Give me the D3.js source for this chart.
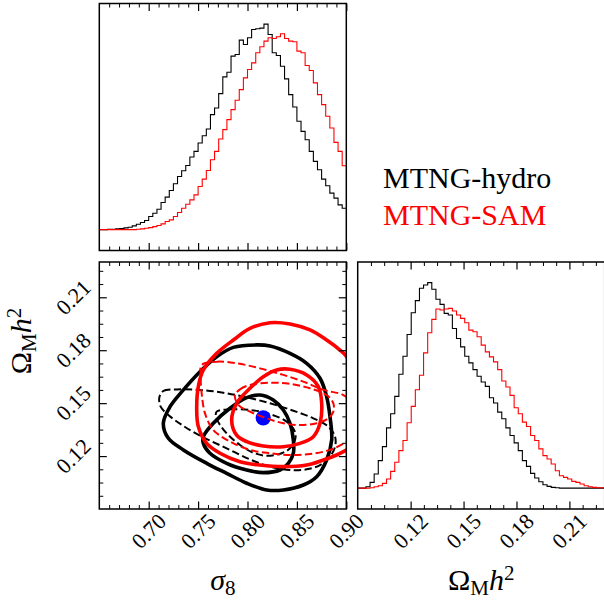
<!DOCTYPE html>
<html>
<head>
<meta charset="utf-8">
<script src="https://d3js.org/d3.v7.min.js"></script>
<style>
body { margin: 0; background: #fff; }
text { font-family: "Liberation Serif", "Times New Roman", serif; fill: #000; }
</style>
</head>
<body>
<svg id="plot" width="604" height="606"></svg>
<script>
/* global d3 */
// parameter ranges and bins
var sigma8Range = [0.65, 0.90];
var omegaRange = [0.09, 0.23];
var nBins = 60;

var sigma8Major = [0.70, 0.75, 0.80, 0.85, 0.90];
var omegaMajor = [0.12, 0.15, 0.18, 0.21];

var seriesNames = ["MTNG-hydro", "MTNG-SAM"];
var seriesColors = ["#000000", "#ff0000"];

// marginal histograms (arbitrary units)
var sigma8Hydro = [1, 1, 2, 2, 3, 4, 6, 8, 12, 17, 22, 28, 40, 50, 62, 82, 98, 118, 138, 160,
	177, 193, 218, 235, 260, 282, 302, 345, 365, 408, 458, 472, 520, 525, 568, 555, 575, 600, 602, 604,
	616, 585, 530, 522, 490, 452, 405, 368, 325, 295, 270, 235, 205, 180, 152, 132, 110, 95, 75, 65];
var sigma8Sam = [1, 1, 1, 1, 1, 1, 1, 1, 1, 2, 3, 5, 7, 10, 13, 18, 25, 30, 40, 52,
	65, 77, 90, 105, 130, 152, 178, 210, 235, 272, 300, 330, 360, 388, 420, 455, 480, 500, 530, 548,
	565, 575, 573, 578, 587, 573, 565, 563, 535, 530, 492, 477, 440, 405, 375, 340, 305, 262, 235, 192];
var omegaHydro = [1, 1, 5, 18, 43, 83, 125, 181, 223, 275, 341, 395, 460, 525, 561, 598, 608, 615, 595, 565,
	550, 523, 518, 478, 448, 423, 395, 375, 355, 335, 318, 305, 271, 255, 228, 208, 181, 158, 136, 113,
	83, 66, 45, 31, 20, 11, 6, 3, 2, 1, 1, 1, 1, 1, 1, 1, 1, 1, 1, 1];
var omegaSam = [1, 1, 1, 2, 5, 8, 15, 28, 51, 78, 113, 143, 196, 245, 295, 338, 405, 465, 505, 536,
	533, 536, 538, 530, 518, 508, 495, 473, 468, 453, 428, 408, 393, 378, 355, 321, 303, 278, 241, 223,
	198, 185, 158, 143, 118, 98, 88, 73, 53, 38, 33, 28, 21, 18, 13, 8, 5, 3, 2, 2];

// 2D contours [sigma8, Omega_M h^2]
var hydroSolidOuter = [[0.7148, 0.1386], [0.7216, 0.1480], [0.7351, 0.1575], [0.7519, 0.1678], [0.7688, 0.1763],
	[0.7857, 0.1816], [0.8093, 0.1830], [0.8228, 0.1824], [0.8430, 0.1782], [0.8599, 0.1726], [0.8734, 0.1641],
	[0.8801, 0.1537], [0.8835, 0.1423], [0.8852, 0.1291], [0.8801, 0.1178], [0.8700, 0.1083], [0.8565, 0.1036],
	[0.8363, 0.1008], [0.8194, 0.1008], [0.7992, 0.1046], [0.7789, 0.1102], [0.7587, 0.1159], [0.7351, 0.1235],
	[0.7199, 0.1301]];
var hydroSolidInner = [[0.7553, 0.1310], [0.7654, 0.1386], [0.7823, 0.1471], [0.7992, 0.1531], [0.8127, 0.1546],
	[0.8261, 0.1518], [0.8363, 0.1461], [0.8430, 0.1386], [0.8464, 0.1291], [0.8464, 0.1216], [0.8413, 0.1159],
	[0.8329, 0.1121], [0.8160, 0.1106], [0.7992, 0.1121], [0.7789, 0.1159], [0.7620, 0.1216], [0.7553, 0.1272]];
var hydroDashOuter = [[0.7108, 0.1533], [0.7148, 0.1569], [0.7283, 0.1578], [0.7519, 0.1575], [0.7755, 0.1559],
	[0.7992, 0.1533], [0.8228, 0.1499], [0.8464, 0.1457], [0.8666, 0.1414], [0.8818, 0.1367], [0.8886, 0.1310],
	[0.8886, 0.1253], [0.8835, 0.1197], [0.8734, 0.1149], [0.8599, 0.1125], [0.8430, 0.1121], [0.8228, 0.1140],
	[0.8025, 0.1181], [0.7789, 0.1244], [0.7553, 0.1306], [0.7351, 0.1371], [0.7199, 0.1433], [0.7121, 0.1480]];
var hydroDashInner = [[0.7688, 0.1452], [0.7823, 0.1465], [0.8025, 0.1461], [0.8228, 0.1438], [0.8396, 0.1395],
	[0.8481, 0.1338], [0.8481, 0.1291], [0.8430, 0.1244], [0.8346, 0.1216], [0.8194, 0.1202], [0.8059, 0.1219],
	[0.7924, 0.1263], [0.7806, 0.1319], [0.7722, 0.1376], [0.7681, 0.1423]];
var samSolidOuter = [[0.7486, 0.1461], [0.7502, 0.1594], [0.7553, 0.1688], [0.7688, 0.1782], [0.7857, 0.1858],
	[0.8025, 0.1924], [0.8228, 0.1956], [0.8430, 0.1949], [0.8633, 0.1915], [0.8801, 0.1858], [0.8936, 0.1801],
	[0.9004, 0.1763], [0.9105, 0.1650], [0.9139, 0.1461], [0.9105, 0.1272], [0.9004, 0.1235], [0.8902, 0.1206],
	[0.8768, 0.1178], [0.8599, 0.1149], [0.8363, 0.1140], [0.8127, 0.1149], [0.7924, 0.1168], [0.7722, 0.1216],
	[0.7587, 0.1272], [0.7502, 0.1367]];
var samSolidInner = [[0.7840, 0.1405], [0.7890, 0.1499], [0.8025, 0.1584], [0.8160, 0.1650], [0.8295, 0.1688],
	[0.8430, 0.1692], [0.8599, 0.1660], [0.8717, 0.1594], [0.8751, 0.1499], [0.8734, 0.1386], [0.8666, 0.1310],
	[0.8531, 0.1272], [0.8363, 0.1253], [0.8160, 0.1257], [0.7992, 0.1282], [0.7890, 0.1319]];
var samDashOuter = [[0.7536, 0.1716], [0.7688, 0.1735], [0.7890, 0.1726], [0.8127, 0.1697], [0.8363, 0.1660],
	[0.8565, 0.1622], [0.8768, 0.1575], [0.8970, 0.1546], [0.9105, 0.1480], [0.9105, 0.1329], [0.9004, 0.1282],
	[0.8835, 0.1235], [0.8633, 0.1212], [0.8430, 0.1206], [0.8228, 0.1216], [0.8025, 0.1235], [0.7823, 0.1282],
	[0.7654, 0.1348], [0.7570, 0.1442], [0.7536, 0.1556], [0.7526, 0.1650]];
var samDashInner = [[0.7873, 0.1546], [0.7924, 0.1578], [0.8025, 0.1603], [0.8228, 0.1616], [0.8430, 0.1609],
	[0.8633, 0.1584], [0.8801, 0.1546], [0.8869, 0.1499], [0.8869, 0.1452], [0.8818, 0.1414], [0.8700, 0.1386],
	[0.8531, 0.1376], [0.8363, 0.1386], [0.8194, 0.1414], [0.8025, 0.1452], [0.7907, 0.1490]];

var fiducial = [0.8159, 0.1417];

// layout
var size = 247;
var leftX = 99.3, rightX = 357.7, topY = 3.5, lowY = 262;

var svg = d3.select("#plot");
var fmt = d3.format(".2f");

function minorValues(lo, hi, step, major) {
	var out = [];
	for (var i = 1; lo + i * step < hi - 1e-9; i++) {
		var v = lo + i * step;
		var isMajor = major.some(function(m) { return Math.abs(m - v) < 1e-6; });
		if (!isMajor) out.push(v);
	}
	return out;
}

function addTicks(g, scale, side, values, len, w) {
	var ax, tr = "translate(0,0)";
	if (side === "bottom") { ax = d3.axisBottom(scale); tr = "translate(0," + size + ")"; }
	else if (side === "top") ax = d3.axisTop(scale);
	else if (side === "left") ax = d3.axisLeft(scale);
	else { ax = d3.axisRight(scale); tr = "translate(" + size + ",0)"; }
	ax.tickValues(values).tickSize(-len).tickFormat("");
	var a = g.append("g").attr("transform", tr).call(ax);
	a.select(".domain").remove();
	a.selectAll("line").attr("stroke", "#000").attr("stroke-width", w);
}

function makePanel(px, py, id) {
	var g = svg.append("g").attr("transform", "translate(" + px + "," + py + ")");
	svg.append("defs").append("clipPath").attr("id", id)
		.append("rect").attr("width", size).attr("height", size);
	return g;
}

function frame(g) {
	g.append("rect").attr("width", size).attr("height", size)
		.attr("fill", "none").attr("stroke", "#000").attr("stroke-width", 1.5);
}

function drawHist(g, clipId, range, series) {
	var x = d3.scaleLinear().domain(range).range([0, size]);
	var maxV = d3.max(series, function(s) { return d3.max(s); });
	var y = d3.scaleLinear().domain([-0.1 * maxV, 1.1 * maxV]).range([size, 0]);
	var step = (range[1] - range[0]) / nBins;
	var line = d3.line().curve(d3.curveStepAfter)
		.x(function(d) { return x(d[0]); }).y(function(d) { return y(d[1]); });
	var body = g.append("g").attr("clip-path", "url(#" + clipId + ")");
	series.forEach(function(vals, k) {
		var pts = vals.map(function(v, i) { return [range[0] + i * step, v]; });
		pts.push([range[1], vals[vals.length - 1]]);
		body.append("path").attr("d", line(pts)).attr("fill", "none")
			.attr("stroke", seriesColors[k]).attr("stroke-width", 1.1);
	});
	return x;
}

// ---- top-left: sigma8 histogram
var gTop = makePanel(leftX, topY, "clipTop");
var xTop = drawHist(gTop, "clipTop", sigma8Range, [sigma8Hydro, sigma8Sam]);
var sMinor = minorValues(sigma8Range[0], sigma8Range[1], 0.01, sigma8Major);
["top", "bottom"].forEach(function(side) {
	addTicks(gTop, xTop, side, sigma8Major, 7.5, 1.2);
	addTicks(gTop, xTop, side, sMinor, 4, 1);
});
frame(gTop);

// ---- bottom-right: Omega histogram
var gRight = makePanel(rightX, lowY, "clipRight");
var xRight = drawHist(gRight, "clipRight", omegaRange, [omegaHydro, omegaSam]);
var oMinor = minorValues(omegaRange[0], omegaRange[1], 0.0075, omegaMajor);
["top", "bottom"].forEach(function(side) {
	addTicks(gRight, xRight, side, omegaMajor, 7.5, 1.2);
	addTicks(gRight, xRight, side, oMinor, 4, 1);
});
frame(gRight);

// ---- bottom-left: 2D contours
var gMid = makePanel(leftX, lowY, "clipMid");
var xs = d3.scaleLinear().domain(sigma8Range).range([0, size]);
var ys = d3.scaleLinear().domain(omegaRange).range([size, 0]);
var contourLine = d3.line().curve(d3.curveCatmullRomClosed.alpha(0.5))
	.x(function(d) { return xs(d[0]); }).y(function(d) { return ys(d[1]); });
var body = gMid.append("g").attr("clip-path", "url(#clipMid)");

function contour(pts, color, dashed) {
	body.append("path").attr("d", contourLine(pts)).attr("fill", "none")
		.attr("stroke", color)
		.attr("stroke-width", dashed ? 2 : 3.6)
		.attr("stroke-dasharray", dashed ? "7.4,3.4" : null)
		.attr("stroke-linejoin", "round");
}

contour(hydroSolidOuter, seriesColors[0], false);
contour(hydroSolidInner, seriesColors[0], false);
contour(hydroDashOuter, seriesColors[0], true);
contour(hydroDashInner, seriesColors[0], true);
body.append("circle").attr("cx", xs(fiducial[0])).attr("cy", ys(fiducial[1]))
	.attr("r", 7.6).attr("fill", "#0000ff");
contour(samSolidOuter, seriesColors[1], false);
contour(samSolidInner, seriesColors[1], false);
contour(samDashOuter, seriesColors[1], true);
contour(samDashInner, seriesColors[1], true);

["top", "bottom"].forEach(function(side) {
	addTicks(gMid, xs, side, sigma8Major, 7.5, 1.2);
	addTicks(gMid, xs, side, sMinor, 4, 1);
});
["left", "right"].forEach(function(side) {
	addTicks(gMid, ys, side, omegaMajor, 7.5, 1.2);
	addTicks(gMid, ys, side, oMinor, 4, 1);
});
frame(gMid);

// ---- rotated tick labels
var tickFont = 22;
gMid.selectAll(".xlab").data(sigma8Major).enter().append("text")
	.attr("transform", function(d) { return "translate(" + xs(d) + "," + (size + 22) + ") rotate(-45)"; })
	.attr("text-anchor", "middle").attr("dominant-baseline", "central")
	.style("font-size", tickFont + "px").text(fmt);
gRight.selectAll(".xlab").data(omegaMajor).enter().append("text")
	.attr("transform", function(d) { return "translate(" + xRight(d) + "," + (size + 22) + ") rotate(-45)"; })
	.attr("text-anchor", "middle").attr("dominant-baseline", "central")
	.style("font-size", tickFont + "px").text(fmt);
gMid.selectAll(".ylab").data(omegaMajor).enter().append("text")
	.attr("transform", function(d) { return "translate(-26," + ys(d) + ") rotate(-45)"; })
	.attr("text-anchor", "middle").attr("dominant-baseline", "central")
	.style("font-size", tickFont + "px").text(fmt);

// ---- axis labels
var labFont = 30;
var sl = svg.append("text").attr("x", leftX + size / 2).attr("y", 590)
	.attr("text-anchor", "middle").style("font-size", labFont + "px");
sl.append("tspan").style("font-style", "italic").text("σ");
sl.append("tspan").attr("dy", 5).style("font-size", (labFont * 0.7) + "px").text("8");

function omegaLabel(sel) {
	sel.append("tspan").text("Ω");
	sel.append("tspan").attr("dy", 5).style("font-size", (labFont * 0.7) + "px").text("M");
	sel.append("tspan").attr("dy", -5).style("font-style", "italic").text("h");
	sel.append("tspan").attr("dy", -10).style("font-size", (labFont * 0.7) + "px").text("2");
}
var ol = svg.append("text").attr("x", rightX + size / 2).attr("y", 590)
	.attr("text-anchor", "middle").style("font-size", labFont + "px");
omegaLabel(ol);
var yl = svg.append("text").attr("transform", "translate(31,341) rotate(-90)")
	.attr("text-anchor", "middle").style("font-size", labFont + "px");
omegaLabel(yl);

// ---- legend
seriesNames.forEach(function(name, i) {
	svg.append("text").attr("x", 383).attr("y", 188.3 + i * 36.7)
		.style("font-size", "30px").style("fill", seriesColors[i])
		.text(name);
});
</script>
</body>
</html>
